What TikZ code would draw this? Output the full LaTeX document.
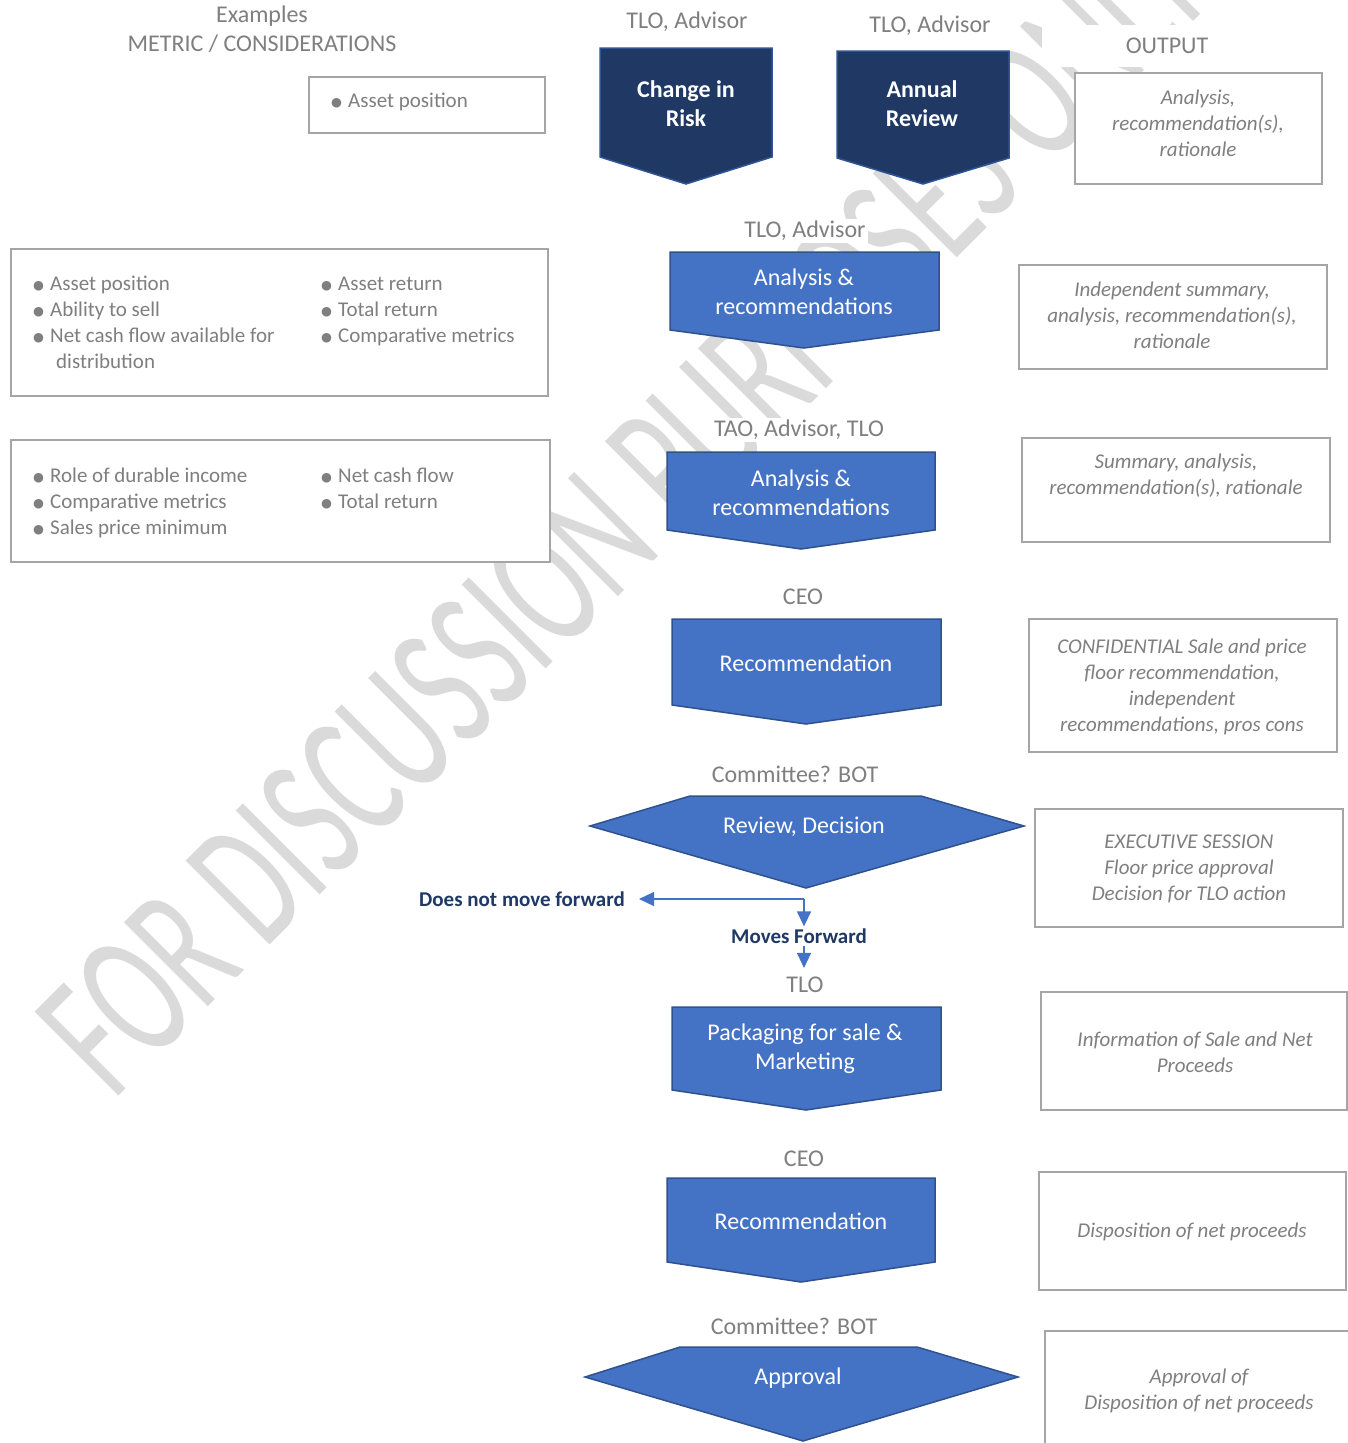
\documentclass[tikz,border=0pt]{standalone}
\usepackage{fontspec}
\setmainfont{Carlito}
\newfontfamily\dejavu{DejaVu Sans}
\usetikzlibrary{arrows.meta}
\definecolor{navy}{HTML}{203864}
\definecolor{navyedge}{HTML}{2F5597}
\definecolor{mblue}{HTML}{4472C4}
\definecolor{mblueedge}{HTML}{2F528F}
\definecolor{boxgray}{HTML}{A5A5A5}
\definecolor{txtgray}{HTML}{7F7F7F}
\definecolor{wmgray}{HTML}{DADADA}
\definecolor{lblnavy}{HTML}{1F3864}
\newcommand\bul{\makebox[17pt][l]{\raisebox{0.8pt}{\dejavu\fontsize{12.5}{12.5}\selectfont ●}}}
\begin{document}
\begin{tikzpicture}[x=1pt,y=-1pt,
  lbl/.style={text=txtgray, font=\fontsize{24}{29}\selectfont, fill=white, inner sep=2pt},
  darkshape/.style={fill=navy, draw=navyedge, line width=1.5pt},
  blueshape/.style={fill=mblue, draw=mblueedge, line width=1.5pt},
  shapetxt/.style={text=white, font=\fontsize{24}{29}\selectfont, align=center, inner sep=0pt},
  boldtxt/.style={text=white, font=\bfseries\fontsize{24}{29}\selectfont, align=center, inner sep=0pt},
  gbox/.style={draw=boxgray, line width=2.2pt, fill=white},
  outtxt/.style={text=txtgray, font=\itshape\fontsize{21}{26}\selectfont, align=center, inner sep=0pt},
  bitem/.style={text=txtgray, font=\fontsize{21}{26}\selectfont, anchor=base west, inner sep=0pt},
  flow/.style={draw=mblue, line width=1.3pt, -{Triangle[length=15pt,width=14pt]}},
  flowlbl/.style={text=lblnavy, font=\bfseries\fontsize{21}{26}\selectfont},
]
\useasboundingbox (0,0) rectangle (1348,1443);
\fill[white] (0,0) rectangle (1348,1443);

% watermark
\begin{scope}[shift={(113,1102)}, rotate=45, xscale=0.615]
\node[text=wmgray, font=\fontsize{185}{185}\selectfont, anchor=base west, inner sep=0pt, transform shape] (wm) at (0,0) {FOR DISCUSSION PURPOSES ONLY};
\end{scope}

% column headers
\node[lbl] (ex) at (262,16) {Examples};
\node[lbl] (metric) at (262,44) {METRIC / CONSIDERATIONS};
\node[lbl] (l1) at (687,22) {TLO, Advisor};
\node[lbl] (l2) at (930,26) {TLO, Advisor};
\node[lbl, minimum width=250pt, minimum height=42pt] (outp) at (1167,46) {OUTPUT};

% dark shapes
\draw[darkshape] (600,48) -- (772,48) -- (772,157) -- (686,184) -- (600,157) -- cycle;
\node[boldtxt] (chg) at (686,104) {Change in\\Risk};
\draw[darkshape] (837,51) -- (1009,51) -- (1009,158) -- (923,184) -- (837,158) -- cycle;
\node[boldtxt] (ann) at (922,104) {Annual\\Review};

% blue shapes
\node[lbl] (l3) at (805,231) {TLO, Advisor};
\draw[blueshape] (670,252) -- (939,252) -- (939,330) -- (804,348) -- (670,330) -- cycle;
\node[shapetxt] (ar1) at (804,292) {Analysis \&\\recommendations};

\node[lbl] (l4) at (799,430) {TAO, Advisor, TLO};
\draw[blueshape] (667,452) -- (935,452) -- (935,530) -- (801,549) -- (667,530) -- cycle;
\node[shapetxt] (ar2) at (801,493) {Analysis \&\\recommendations};

\node[lbl] (l5) at (803,597) {CEO};
\draw[blueshape] (672,619) -- (941,619) -- (941,705) -- (806,724) -- (672,705) -- cycle;
\node[shapetxt] (rec1) at (806,663) {Recommendation};

\node[lbl] (l6) at (795,774) {Committee? BOT};
\draw[blueshape] (690,796) -- (921,796) -- (1024,826) -- (806,888) -- (590,826) -- cycle;
\node[shapetxt] (rev) at (804,827) {Review, Decision};

\node[lbl] (tlo3) at (805,985) {TLO};
\draw[blueshape] (672,1007) -- (941,1007) -- (941,1090) -- (806,1110) -- (672,1090) -- cycle;
\node[shapetxt] (pack) at (805,1049) {Packaging for sale \&\\Marketing};

\node[lbl] (l8) at (804,1159) {CEO};
\draw[blueshape] (667,1178) -- (935,1178) -- (935,1262) -- (801,1282) -- (667,1262) -- cycle;
\node[shapetxt] (rec2) at (801,1221) {Recommendation};

\node[lbl] (l9) at (794,1326) {Committee? BOT};
\draw[blueshape] (680,1347) -- (917,1347) -- (1018,1377) -- (803,1441) -- (585,1377) -- cycle;
\node[shapetxt] (appr) at (798,1378) {Approval};

% flow after decision
\coordinate (jn) at (804,899);
\node[flowlbl, inner xsep=14pt, inner ysep=2pt] (nomove) at (522,899) {Does not move forward};
\node[flowlbl, inner sep=2pt] (moves) at (799,936) {Moves Forward};
\draw[flow] (jn) -- (nomove.east);
\draw[flow] (jn) -- (jn |- moves.north);
\draw[flow] (jn |- moves.south) -- ([yshift=7pt]jn |- tlo3.north);

% left metric boxes
\draw[gbox] (309,77) rectangle (545,133);
\node[bitem] (ga1) at (331,107) {\bul Asset position};

\draw[gbox] (11,249) rectangle (548,396);
\node[bitem] (gb1) at (33,290) {\bul Asset position};
\node[bitem] (gb2) at (33,316) {\bul Ability to sell};
\node[bitem] (gb3) at (33,342) {\bul Net cash flow available for};
\node[bitem] (gb4) at (56,368) {distribution};
\node[bitem] (gb5) at (321,290) {\bul Asset return};
\node[bitem] (gb6) at (321,316) {\bul Total return};
\node[bitem] (gb7) at (321,342) {\bul Comparative metrics};

\draw[gbox] (11,440) rectangle (550,562);
\node[bitem] (gc1) at (33,482) {\bul Role of durable income};
\node[bitem] (gc2) at (33,508) {\bul Comparative metrics};
\node[bitem] (gc3) at (33,534) {\bul Sales price minimum};
\node[bitem] (gc4) at (321,482) {\bul Net cash flow};
\node[bitem] (gc5) at (321,508) {\bul Total return};

% output boxes
\draw[gbox] (1075,73) rectangle (1322,184);
\node[outtxt] (o1) at (1198,123) {Analysis,\\recommendation(s),\\rationale};
\draw[gbox] (1019,265) rectangle (1327,369);
\node[outtxt] (o2) at (1172,315) {Independent summary,\\analysis, recommendation(s),\\rationale};
\draw[gbox] (1022,438) rectangle (1330,542);
\node[outtxt] (o3) at (1176,476) {Summary, analysis,\\recommendation(s), rationale};
\draw[gbox] (1029,619) rectangle (1337,752);
\node[outtxt] (o4) at (1182,687) {CONFIDENTIAL Sale and price\\floor recommendation,\\independent\\recommendations, pros cons};
\draw[gbox] (1035,809) rectangle (1343,927);
\node[outtxt] (o5) at (1189,869) {EXECUTIVE SESSION\\Floor price approval\\Decision for TLO action};
\draw[gbox] (1041,992) rectangle (1347,1110);
\node[outtxt] (o6) at (1195,1052) {Information of Sale and Net\\Proceeds};
\draw[gbox] (1039,1172) rectangle (1346,1290);
\node[outtxt] (o7) at (1192,1232) {Disposition of net proceeds};
\draw[gbox] (1045,1331) rectangle (1365,1460);
\node[outtxt] (o8) at (1199,1391) {Approval of\\Disposition of net proceeds};
\end{tikzpicture}
\end{document}
